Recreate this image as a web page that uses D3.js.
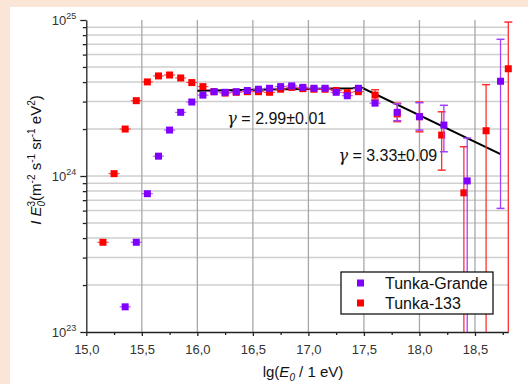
<!DOCTYPE html>
<html>
<head>
<meta charset="utf-8">
<script src="https://cdn.jsdelivr.net/npm/d3@7"></script>
<style>
  body { margin: 0; background: #fbe5d6; }
  svg { display: block; font-family: "Liberation Sans", Arial, sans-serif; }
</style>
</head>
<body>
<script>
// Tunka-Grande (purple)
var lgE_TG = [15.35, 15.45, 15.55, 15.65, 15.75, 15.85, 15.95, 16.05, 16.15, 16.25, 16.35, 16.45, 16.55, 16.65,
  16.75, 16.85, 16.95, 17.05, 17.15, 17.25, 17.35, 17.45, 17.6, 17.8, 18.0, 18.22, 18.43, 18.73];
var flux_TG = [1.45e23, 3.76e23, 7.7e23, 1.34e24, 1.97e24, 2.56e24, 2.98e24, 3.30e24, 3.47e24, 3.44e24, 3.47e24,
  3.53e24, 3.60e24, 3.65e24, 3.74e24, 3.78e24, 3.70e24, 3.65e24, 3.65e24, 3.44e24, 3.27e24, 3.65e24, 2.93e24,
  2.56e24, 2.40e24, 2.12e24, 9.3e23, 4.05e24];
var errLo_TG = [null, null, null, null, null, null, null, null, null, null, null, null, null, null, null, null, null,
  null, null, null, null, null, null, 2.26e24, 1.97e24, 1.43e24, 1e22, 6.2e23];
var errHi_TG = [null, null, null, null, null, null, null, null, null, null, null, null, null, null, null, null, null,
  null, null, null, null, null, null, 2.90e24, 2.95e24, 2.84e24, 1.75e24, 7.52e24];

// Tunka-133 (red)
var lgE_T133 = [15.15, 15.25, 15.35, 15.45, 15.55, 15.65, 15.75, 15.85, 15.95, 16.05, 16.15, 16.25, 16.35, 16.45,
  16.55, 16.65, 16.75, 16.85, 16.95, 17.05, 17.15, 17.25, 17.35, 17.45, 17.6, 17.8, 18.0, 18.2, 18.4, 18.6, 18.8];
var flux_T133 = [3.76e23, 1.035e24, 2.0e24, 3.04e24, 4.01e24, 4.38e24, 4.44e24, 4.25e24, 3.97e24, 3.74e24, 3.47e24,
  3.40e24, 3.44e24, 3.47e24, 3.47e24, 3.44e24, 3.60e24, 3.70e24, 3.63e24, 3.60e24, 3.60e24, 3.53e24, 3.42e24,
  3.47e24, 3.30e24, 2.5e24, 2.40e24, 1.83e24, 7.8e23, 1.95e24, 4.87e24];
var errLo_T133 = [null, null, null, null, null, null, null, null, null, null, null, null, null, null, null, null, null,
  null, null, null, null, null, null, null, 3.07e24, 2.23e24, 1.92e24, 1.09e24, 1e22, 1e22, 1e22];
var errHi_T133 = [null, null, null, null, null, null, null, null, null, null, null, null, null, null, null, null, null,
  null, null, null, null, null, null, null, 3.57e24, 2.93e24, 2.98e24, 2.58e24, 1.54e24, 3.85e24, 9.7e24];

// power-law fit (broken line)
var fitLgE = [16.0, 17.4, 17.47, 18.73];
var fitFlux = [3.52e24, 3.65e24, 3.72e24, 1.38e24];

var xMajor = [15.0, 15.5, 16.0, 16.5, 17.0, 17.5, 18.0, 18.5];
var xMinor = [15.25, 15.75, 16.25, 16.75, 17.25, 17.75, 18.25, 18.75];
var yMajorExp = [23, 24, 25];

var fitLabels = ["2.99\u00b10.01", "3.33\u00b10.09"];
var fitLabelPos = [[16.27, 2.16e24], [17.27, 1.25e24]];

var w = 528, h = 384;
var svg = d3.select("body").append("svg")
    .attr("width", w)
    .attr("height", h);

svg.append("rect")
    .attr("x", 10).attr("y", 7)
    .attr("width", w - 10).attr("height", h - 7)
    .attr("fill", "#fff");

var x = d3.scaleLinear().domain([15, 18.8]).range([86.3, 508.3]);
var y = d3.scaleLog().domain([1e23, 1e25]).range([332, 20]).clamp(true);

// minor y values
var yMinor = [];
[1e23, 1e24].forEach(function(d) {
  for (var k = 2; k <= 9; k++) yMinor.push(k * d);
});

// grid
svg.append("g").selectAll("line")
  .data(yMinor.concat([1e24]))
  .enter().append("line")
    .attr("x1", x(15)).attr("x2", x(18.8))
    .attr("y1", function(d) { return y(d); })
    .attr("y2", function(d) { return y(d); })
    .attr("stroke", "#cfcfcf")
    .attr("stroke-width", 1.5);
svg.append("g").selectAll("line")
  .data(xMajor.slice(1))
  .enter().append("line")
    .attr("x1", function(d) { return x(d); })
    .attr("x2", function(d) { return x(d); })
    .attr("y1", y(1e25)).attr("y2", y(1e23))
    .attr("stroke", "#a8a8a8")
    .attr("stroke-width", 1.3);

// axes
var axisColor = "#222";
var xAxis = svg.append("g")
    .attr("transform", "translate(0," + y(1e23) + ")")
    .call(d3.axisBottom(x).tickValues(xMajor).tickSizeInner(4).tickSizeOuter(0)
      .tickFormat(function(d) { return d3.format(".1f")(d).replace(".", ","); }));
svg.append("g")
    .attr("transform", "translate(0," + y(1e23) + ")")
    .call(d3.axisBottom(x).tickValues(xMinor).tickSize(3).tickFormat(""))
    .select(".domain").remove();
xAxis.selectAll("text")
    .attr("font-size", 13)
    .attr("font-family", "Liberation Sans, Arial, sans-serif")
    .attr("fill", "#333")
    .attr("dy", "1.15em");

var yAxis = svg.append("g")
    .attr("transform", "translate(" + x(15) + ",0)")
    .call(d3.axisLeft(y).tickValues(yMajorExp.map(function(e) { return Math.pow(10, e); }))
      .tickSizeInner(6).tickSizeOuter(0).tickFormat(""));
svg.append("g")
    .attr("transform", "translate(" + x(15) + ",0)")
    .call(d3.axisLeft(y).tickValues(yMinor).tickSize(3.5).tickFormat(""))
    .select(".domain").remove();
svg.selectAll(".domain, .tick line").attr("stroke", axisColor).attr("stroke-width", 1.3);

var yLab = svg.append("g").selectAll("text")
  .data(yMajorExp)
  .enter().append("text")
    .attr("x", x(15) - 10)
    .attr("y", function(d) { return y(Math.pow(10, d)) + 5; })
    .attr("text-anchor", "end")
    .attr("fill", "#333")
    .attr("font-size", 13);
yLab.append("tspan").text("10");
yLab.append("tspan").attr("font-size", 9).attr("dy", -6).text(function(d) { return d; });

// axis titles
var xt = svg.append("text")
    .attr("x", 303).attr("y", 377)
    .attr("text-anchor", "middle")
    .attr("font-size", 15)
    .attr("fill", "#111");
xt.append("tspan").text("lg(");
xt.append("tspan").attr("font-style", "italic").text("E");
xt.append("tspan").attr("font-style", "italic").attr("font-size", 10).attr("dy", 4).text("0");
xt.append("tspan").attr("dy", -4).text(" / 1 eV)");

var yt = svg.append("text")
    .attr("transform", "translate(41,160) rotate(-90)")
    .attr("text-anchor", "middle")
    .attr("font-size", 15)
    .attr("fill", "#111");
yt.append("tspan").attr("font-style", "italic").text("I ");
yt.append("tspan").attr("font-style", "italic").text("E");
yt.append("tspan").attr("font-style", "italic").attr("font-size", 10).attr("dy", 4).text("0");
yt.append("tspan").attr("font-size", 10).attr("dx", -5.6).attr("dy", -10).text("3");
yt.append("tspan").attr("dy", 6).text("(m");
yt.append("tspan").attr("font-size", 10).attr("dy", -6).text("-2");
yt.append("tspan").attr("dy", 6).text(" s");
yt.append("tspan").attr("font-size", 10).attr("dy", -6).text("-1");
yt.append("tspan").attr("dy", 6).text(" sr");
yt.append("tspan").attr("font-size", 10).attr("dy", -6).text("-1");
yt.append("tspan").attr("dy", 6).text(" eV");
yt.append("tspan").attr("font-size", 10).attr("dy", -6).text("2");
yt.append("tspan").attr("dy", 6).text(")");

// fit line
var fitPts = fitLgE.map(function(d, i) { return [d, fitFlux[i]]; });
svg.append("path")
    .datum(fitPts)
    .attr("fill", "none")
    .attr("stroke", "#000")
    .attr("stroke-width", 2)
    .attr("d", d3.line().x(function(d) { return x(d[0]); }).y(function(d) { return y(d[1]); }));

// series
function drawSeries(lg, flux, lo, hi, color, barColor) {
  var pts = lg.map(function(d, i) { return { e: d, f: flux[i], lo: lo[i], hi: hi[i] }; });
  var g = svg.append("g");
  var eb = pts.filter(function(d) { return d.lo != null; });
  g.selectAll(".eb").data(eb).enter().append("line")
      .attr("x1", function(d) { return x(d.e); })
      .attr("x2", function(d) { return x(d.e); })
      .attr("y1", function(d) { return y(d.lo); })
      .attr("y2", function(d) { return y(d.hi); })
      .attr("stroke", barColor).attr("stroke-width", 1.3);
  g.selectAll(".capHi").data(eb).enter().append("line")
      .attr("x1", function(d) { return x(d.e) - 4; })
      .attr("x2", function(d) { return x(d.e) + 4; })
      .attr("y1", function(d) { return y(d.hi); })
      .attr("y2", function(d) { return y(d.hi); })
      .attr("stroke", barColor).attr("stroke-width", 1.5);
  g.selectAll(".capLo").data(eb.filter(function(d) { return d.lo >= 1e23; })).enter().append("line")
      .attr("x1", function(d) { return x(d.e) - 4; })
      .attr("x2", function(d) { return x(d.e) + 4; })
      .attr("y1", function(d) { return y(d.lo); })
      .attr("y2", function(d) { return y(d.lo); })
      .attr("stroke", barColor).attr("stroke-width", 1.5);
  // small horizontal bin bars
  g.selectAll(".xb").data(pts.filter(function(d) { return d.lo == null; })).enter().append("line")
      .attr("x1", function(d) { return x(d.e - 0.05); })
      .attr("x2", function(d) { return x(d.e + 0.05); })
      .attr("y1", function(d) { return y(d.f); })
      .attr("y2", function(d) { return y(d.f); })
      .attr("stroke", barColor).attr("stroke-width", 1);
  g.selectAll("rect").data(pts).enter().append("rect")
      .attr("x", function(d) { return x(d.e) - 3.5; })
      .attr("y", function(d) { return y(d.f) - 3.5; })
      .attr("width", 7).attr("height", 7)
      .attr("fill", color);
}
drawSeries(lgE_T133, flux_T133, errLo_T133, errHi_T133, "#ff0000", "#ff3030");
drawSeries(lgE_TG, flux_TG, errLo_TG, errHi_TG, "#7f00ff", "#a040ff");

// fit annotations
var fl = svg.append("g").selectAll("text")
  .data(fitLabels)
  .enter().append("text")
    .attr("x", function(d, i) { return x(fitLabelPos[i][0]); })
    .attr("y", function(d, i) { return y(fitLabelPos[i][1]); })
    .attr("font-size", 16)
    .attr("fill", "#111");
fl.append("tspan").attr("font-style", "italic").attr("font-family", "DejaVu Serif, serif").text("\u03b3");
fl.append("tspan").text(function(d) { return " = " + d; });

// legend
var legNames = ["Tunka-Grande", "Tunka-133"];
var legColors = ["#7f00ff", "#ff0000"];
var leg = svg.append("g").attr("transform", "translate(341,272)");
leg.append("rect")
    .attr("width", 152).attr("height", 42)
    .attr("fill", "#fff").attr("stroke", "#000").attr("stroke-width", 1.2);
var li = leg.selectAll(".li").data(legNames).enter().append("g")
    .attr("transform", function(d, i) { return "translate(0," + (11 + i * 20) + ")"; });
li.append("rect")
    .attr("x", 16).attr("y", -3.5).attr("width", 7).attr("height", 7)
    .attr("fill", function(d, i) { return legColors[i]; });
li.append("text")
    .attr("x", 44).attr("y", 5.5)
    .attr("font-size", 16)
    .attr("fill", "#111")
    .text(function(d) { return d; });
</script>
</body>
</html>
